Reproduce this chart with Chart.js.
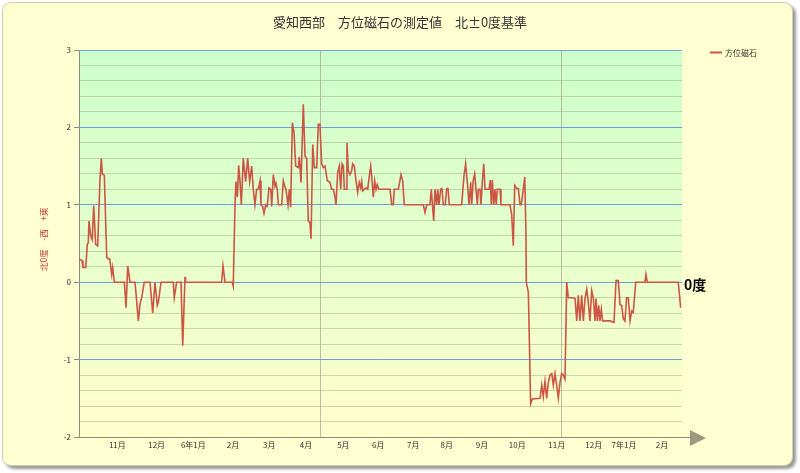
<!DOCTYPE html>
<html>
<head>
<meta charset="utf-8">
<script src="https://cdn.jsdelivr.net/npm/chart.js@4/dist/chart.umd.min.js"></script>
<style>
  body { margin: 0; background: #ffffff; }
  #card {
    position: absolute; left: 2px; top: 2px; width: 789px; height: 462px;
    background: #ffffd2; border: 1px solid #cfcfae; border-radius: 9px;
    box-shadow: 3px 3px 3px #9a9a9a;
  }
  #wrap { position: absolute; left: 0; top: 0; width: 800px; height: 473px; }
</style>
</head>
<body>
<div id="card"></div>
<div id="wrap"><canvas id="compass_chart" width="800" height="473"></canvas></div>
<script>
// days counted from 2023-10-01 (axis 0 .. 500)
var days = [
  0, 2.5, 3.3, 5.6, 6.9, 7.7, 8.3, 9.7, 11.0, 12.2, 13.8, 15.5, 17.4, 18.5, 19.3, 21.0,
  23.0, 24.3, 25.5, 27.1, 27.9, 29.3, 37.6, 39.0, 40.4, 42.3, 46.4, 47.3, 49.2, 50.6,
  52.0, 54.1, 58.9, 61.1, 63.0, 64.9, 65.8, 68.0, 78.2, 79.0, 81.0, 84.6, 86.0, 87.9,
  88.3, 118.3, 119.4, 121.1, 127.1, 127.9, 129.4, 130.2, 131.3, 132.4, 133.5, 134.6,
  136.2, 138.2, 139.9, 141.5,
  143.2, 144.5, 145.9, 147.3, 148.7, 150.1, 150.9, 152.3, 153.4, 154.8, 156.1, 157.5,
  159.0, 159.8, 161.1, 162.5, 163.3, 164.4, 165.3, 168.1, 169.4, 170.6, 171.6, 173.3,
  174.4, 175.5, 176.9, 178.3, 179.7, 181.8, 182.7, 184.1, 186.0, 187.4, 188.8, 190.1,
  191.5, 192.4, 193.8, 195.1, 197.1, 198.4, 199.8, 201.2, 202.6, 204.0, 205.9, 208.1,
  209.5, 210.9, 212.3, 213.1, 214.5, 215.8, 217.0, 218.1, 219.2, 220.0, 221.4, 222.2,
  223.3, 224.7, 226.1, 226.9, 228.3, 229.7, 231.1, 232.4, 233.6, 234.4, 235.2, 236.6,
  238.0, 239.4, 240.7, 241.9, 243.0, 244.0, 245.2, 246.3, 247.3, 248.5, 257.9, 259.3,
  260.6, 261.4, 264.8, 267.0, 268.4, 269.7,
  285.5, 286.9, 288.3, 291.0, 292.1, 294.1, 295.2, 296.6, 297.4, 298.5, 299.9, 301.0,
  302.1, 303.7, 304.9, 306.0, 307.0, 317.3, 319.2, 320.6, 322.0, 323.4, 324.8, 325.6,
  326.9, 328.1, 329.2, 330.3, 331.1, 332.5, 333.3, 334.4, 335.6, 336.7, 340.0, 341.0,
  341.9, 342.7, 343.9, 344.9, 346.0, 346.8, 349.1, 349.9, 357.4, 358.8, 360.1, 361.3,
  362.9, 364.3, 365.7, 366.7, 368.4, 369.6, 370.6, 370.9, 372.6, 374.5, 375.9, 382.3,
  383.7, 385.0, 386.4, 387.8, 389.1, 390.5, 392.0, 393.3, 394.7, 396.1, 397.4, 398.8,
  400.2, 401.6, 403.0, 404.4, 405.7, 409.9, 411.3, 412.7, 414.0, 415.4, 416.8, 418.2,
  419.6, 421.0, 422.3, 423.7, 425.1, 426.5, 427.9, 428.7, 429.8, 430.9, 432.0, 433.1,
  434.2, 440.3, 443.6, 445.3, 447.2, 448.6, 450.0, 451.3, 452.7, 454.1, 455.5, 456.9,
  458.3, 459.6, 461.6, 469.3, 470.1, 471.2, 496.9, 498.9
];
var degrees = [
  0.3, 0.28, 0.19, 0.19, 0.49, 0.51, 0.79, 0.6, 0.55, 0.99, 0.49, 0.47, 1.33, 1.6, 1.4, 1.38,
  0.32, 0.3, 0.3, 0.1, 0.19, 0, 0, -0.33, 0.21, 0, 0, -0.15, -0.5, -0.28,
  -0.2, 0, 0, -0.4, 0, -0.3, -0.26, 0, 0, -0.2, 0, 0, -0.82, 0.07,
  0, 0, 0.21, 0, 0, -0.05, 1.03, 1.3, 1.1, 1.51, 1.3, 1.0,
  1.6, 1.3, 1.6, 1.3,
  1.5, 1.2, 1.0, 1.2, 1.2, 1.31, 1.0, 0.98, 0.89, 1.0, 0.98, 1.22,
  1.2, 0.98, 1.39, 1.24, 1.28, 1.2, 1.0, 1.0, 1.31, 1.24, 1.2, 1.0,
  1.2, 0.97, 2.06, 1.93, 1.5, 1.48, 1.62, 1.29, 2.3, 1.63, 1.6, 0.79,
  0.77, 0.56, 1.78, 1.48, 1.48, 2.04, 2.04, 1.53, 1.48, 1.5, 1.31, 1.29,
  1.2, 1.2, 1.1, 1.0, 1.42, 1.5, 1.2, 1.53, 1.5, 1.2, 1.2, 1.8,
  1.44, 1.39, 1.44, 1.53, 1.5, 1.31, 1.16, 1.29, 1.22, 1.3, 1.18, 1.2,
  1.22, 1.2, 1.37, 1.5, 1.31, 1.1, 1.31, 1.2, 1.26, 1.2, 1.2, 1.0,
  1.0, 1.2, 1.2, 1.39, 1.31, 1.0,
  1.0, 0.9, 1.0, 1.0, 1.2, 0.79, 1.2, 1.0, 1.2, 1.0, 1.2, 1.21,
  1.0, 1.0, 1.21, 1.21, 1.0, 1.0, 1.37, 1.53, 1.29, 1.0, 1.29, 1.0,
  1.32, 1.4, 1.2, 1.0, 1.2, 1.2, 1.0, 1.29, 1.53, 1.2, 1.2, 1.32,
  1.0, 1.32, 1.0, 1.2, 1.0, 1.2, 1.2, 1.0, 1.0, 0.87, 0.47, 1.25,
  1.21, 1.21, 1.0, 1.0, 1.2, 1.36, 0.64, 0.0, -0.13, -1.57, -1.51, -1.5,
  -1.33, -1.48, -1.28, -1.5, -1.3, -1.2, -1.18, -1.33, -1.18, -1.33, -1.5, -1.3,
  -1.18, -1.2, -1.25, 0, -0.2, -0.2, -0.21, -0.5, -0.17, -0.5, -0.17, -0.5,
  -0.21, -0.09, -0.26, -0.5, -0.11, -0.21, -0.5, -0.21, -0.5, -0.3, -0.5, -0.35,
  -0.5, -0.5, -0.52, 0.02, 0.02, -0.29, -0.3, -0.47, -0.5, -0.2, -0.2, -0.5,
  -0.37, -0.39, 0, 0, 0.1, 0, 0, -0.33
];

var monthDays = [31.8, 64.4, 94.8, 127.7, 157.8, 188.2, 219.2, 248.2, 277.2, 304.9, 334.2, 363.4, 396.1, 426.8, 451.9, 483.4];
var monthLabels = ['11月', '12月', '6年1月', '2月', '3月', '4月', '5月', '6月', '7月', '8月', '9月', '10月', '11月', '12月', '7年1月', '2月'];
var dividerDays = [200, 400];
var yTicks = [-2, -1, 0, 1, 2, 3];

var seriesName = '方位磁石';
var titleText = '愛知西部　方位磁石の測定値　北±0度基準';
var yTitle = '　北0度　-西　+東';
var zeroLabel = '0度';

var lineColor = '#cc5544';
var majorGrid = '#6f9fdc';
var jpFont = '"Noto Sans CJK JP", "Noto Sans", sans-serif';

// major grid every 1.0, minor every 0.2 (checked in fifths to avoid float noise)
function isMajor(v) {
  return Math.round(v * 5) % 5 === 0;
}

var points = [];
for (var i = 0; i < days.length; i++) {
  points.push({x: days[i], y: degrees[i]});
}

var decorPlugin = {
  id: 'decor',
  beforeDraw: function(chart) {
    var a = chart.chartArea, ctx = chart.ctx;
    var g = ctx.createLinearGradient(0, a.top, 0, a.bottom);
    g.addColorStop(0, '#ccffcc');
    g.addColorStop(1, '#ffffcc');
    ctx.save();
    ctx.fillStyle = g;
    ctx.fillRect(a.left, a.top, a.right - a.left, a.bottom - a.top);
    ctx.restore();
  },
  beforeDatasetsDraw: function(chart) {
    // blue whole-degree lines on top of the minor grid
    var a = chart.chartArea, ctx = chart.ctx, ys = chart.scales.y;
    ctx.save();
    ctx.strokeStyle = majorGrid;
    ctx.lineWidth = 1;
    yTicks.forEach(function(v) {
      if (v === ys.min) return;
      var py = Math.round(ys.getPixelForValue(v) - 0.5) + 0.5;
      ctx.beginPath();
      ctx.moveTo(a.left, py);
      ctx.lineTo(a.right, py);
      ctx.stroke();
    });
    ctx.restore();
  },
  afterDraw: function(chart) {
    var a = chart.chartArea, ctx = chart.ctx;
    var y0 = chart.scales.y.getPixelForValue(0);
    ctx.save();
    // axis arrow
    ctx.strokeStyle = '#8c8c80';
    ctx.lineWidth = 1;
    ctx.beginPath();
    ctx.moveTo(a.right, a.bottom + 0.5);
    ctx.lineTo(a.right + 9, a.bottom + 0.5);
    ctx.stroke();
    ctx.fillStyle = '#9a9a80';
    ctx.beginPath();
    ctx.moveTo(a.right + 8, a.bottom - 7);
    ctx.lineTo(a.right + 24, a.bottom + 1);
    ctx.lineTo(a.right + 8, a.bottom + 9);
    ctx.closePath();
    ctx.fill();
    // zero label
    ctx.fillStyle = '#000000';
    ctx.font = 'bold 14px ' + jpFont;
    ctx.textBaseline = 'middle';
    ctx.textAlign = 'left';
    ctx.fillText(zeroLabel, a.right + 2, y0 + 2);
    // legend
    ctx.strokeStyle = lineColor;
    ctx.lineWidth = 2;
    ctx.beginPath();
    ctx.moveTo(710, 52.5);
    ctx.lineTo(722, 52.5);
    ctx.stroke();
    ctx.fillStyle = '#333333';
    ctx.font = '8px ' + jpFont;
    ctx.fillText(seriesName, 725, 53);
    ctx.restore();
  }
};

var ctx = document.getElementById('compass_chart');
var compassChart = new Chart(ctx, {
  type: 'line',
  data: {
    datasets: [{
      label: seriesName,
      data: points,
      borderColor: lineColor,
      borderWidth: 1.6,
      pointRadius: 0,
      tension: 0,
      fill: false
    }]
  },
  options: {
    responsive: false,
    animation: false,
    layout: {padding: 0},
    plugins: {
      legend: {display: false},
      tooltip: {enabled: false},
      title: {
        display: true,
        text: titleText,
        color: '#333333',
        font: {family: jpFont, size: 13, weight: 'normal'},
        padding: {top: 14, bottom: 20.4}
      }
    },
    scales: {
      x: {
        type: 'linear',
        min: 0,
        max: 500,
        afterFit: function(scale) { scale.height = 36; },
        afterBuildTicks: function(scale) {
          var t = [];
          monthDays.forEach(function(d) { t.push({value: d}); });
          dividerDays.forEach(function(d) { t.push({value: d}); });
          scale.ticks = t;
        },
        border: {display: true, color: '#8c8c80'},
        grid: {
          drawTicks: false,
          color: function(c) {
            return dividerDays.indexOf(c.tick.value) >= 0 ? 'rgba(150,150,130,0.6)' : 'rgba(0,0,0,0)';
          }
        },
        ticks: {
          autoSkip: false,
          maxRotation: 0,
          padding: 3,
          color: '#333333',
          font: {family: jpFont, size: 8},
          callback: function(v) {
            var k = monthDays.indexOf(v);
            return k >= 0 ? monthLabels[k] : '';
          }
        }
      },
      y: {
        type: 'linear',
        position: 'left',
        min: -2,
        max: 3,
        afterFit: function(scale) { scale.width = 79; },
        border: {display: true, color: '#8c8c80'},
        grid: {
          tickLength: 5,
          color: function(c) {
            return isMajor(c.tick.value) ? majorGrid : 'rgba(150,165,125,0.45)';
          },
          tickColor: function(c) {
            return isMajor(c.tick.value) ? '#8c8c80' : 'rgba(0,0,0,0)';
          }
        },
        ticks: {
          stepSize: 0.2,
          autoSkip: false,
          padding: 3,
          color: '#333333',
          font: {family: jpFont, size: 8},
          callback: function(v) {
            return isMajor(v) && yTicks.indexOf(Math.round(v)) >= 0 ? String(Math.round(v)) : '';
          }
        },
        title: {
          display: true,
          text: yTitle,
          color: '#cc3333',
          font: {family: jpFont, size: 8.5},
          padding: {top: 39, bottom: 0}
        }
      },
      spacer: {
        type: 'linear',
        position: 'right',
        afterFit: function(scale) { scale.width = 118; },
        grid: {display: false},
        border: {display: false},
        ticks: {display: false}
      }
    }
  },
  plugins: [decorPlugin]
});
</script>
</body>
</html>
